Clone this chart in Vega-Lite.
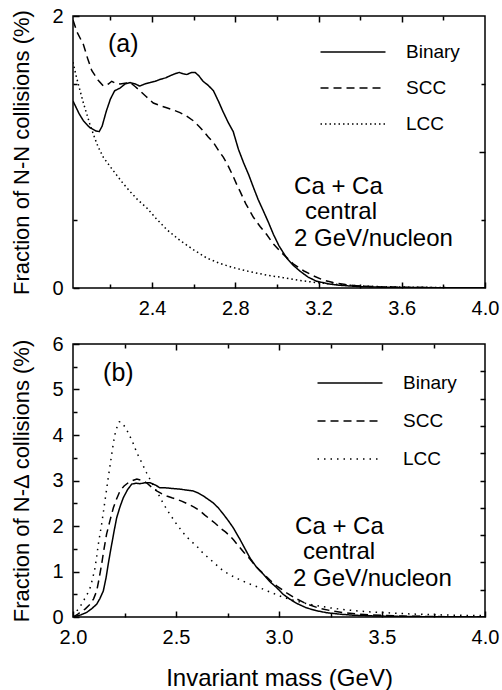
{
  "$schema": "https://vega.github.io/schema/vega-lite/v6.json",
  "background": "white",
  "padding": {"left": 10, "top": 5, "right": 0, "bottom": 0},
  "spacing": 14,
  "datasets": {
    "a": [
      {"x":2.02,"y":1.375,"s":"Binary"},{"x":2.05,"y":1.28,"s":"Binary"},{"x":2.07,"y":1.23,"s":"Binary"},{"x":2.10,"y":1.18,"s":"Binary"},{"x":2.13,"y":1.155,"s":"Binary"},{"x":2.146,"y":1.15,"s":"Binary"},{"x":2.16,"y":1.19,"s":"Binary"},{"x":2.18,"y":1.30,"s":"Binary"},{"x":2.20,"y":1.39,"s":"Binary"},{"x":2.22,"y":1.45,"s":"Binary"},{"x":2.246,"y":1.47,"s":"Binary"},{"x":2.27,"y":1.50,"s":"Binary"},{"x":2.295,"y":1.51,"s":"Binary"},{"x":2.32,"y":1.50,"s":"Binary"},{"x":2.34,"y":1.485,"s":"Binary"},{"x":2.365,"y":1.50,"s":"Binary"},{"x":2.39,"y":1.51,"s":"Binary"},{"x":2.415,"y":1.52,"s":"Binary"},{"x":2.44,"y":1.535,"s":"Binary"},{"x":2.465,"y":1.545,"s":"Binary"},{"x":2.486,"y":1.56,"s":"Binary"},{"x":2.51,"y":1.575,"s":"Binary"},{"x":2.53,"y":1.585,"s":"Binary"},{"x":2.55,"y":1.575,"s":"Binary"},{"x":2.567,"y":1.57,"s":"Binary"},{"x":2.59,"y":1.585,"s":"Binary"},{"x":2.607,"y":1.585,"s":"Binary"},{"x":2.625,"y":1.56,"s":"Binary"},{"x":2.645,"y":1.52,"s":"Binary"},{"x":2.67,"y":1.49,"s":"Binary"},{"x":2.695,"y":1.45,"s":"Binary"},{"x":2.72,"y":1.37,"s":"Binary"},{"x":2.74,"y":1.30,"s":"Binary"},{"x":2.765,"y":1.22,"s":"Binary"},{"x":2.79,"y":1.15,"s":"Binary"},{"x":2.815,"y":1.02,"s":"Binary"},{"x":2.84,"y":0.92,"s":"Binary"},{"x":2.865,"y":0.83,"s":"Binary"},{"x":2.887,"y":0.74,"s":"Binary"},{"x":2.91,"y":0.65,"s":"Binary"},{"x":2.935,"y":0.566,"s":"Binary"},{"x":2.96,"y":0.48,"s":"Binary"},{"x":2.983,"y":0.395,"s":"Binary"},{"x":3.01,"y":0.31,"s":"Binary"},{"x":3.047,"y":0.22,"s":"Binary"},{"x":3.08,"y":0.165,"s":"Binary"},{"x":3.11,"y":0.125,"s":"Binary"},{"x":3.15,"y":0.08,"s":"Binary"},{"x":3.19,"y":0.05,"s":"Binary"},{"x":3.25,"y":0.03,"s":"Binary"},{"x":3.30,"y":0.02,"s":"Binary"},{"x":3.40,"y":0.01,"s":"Binary"},{"x":3.50,"y":0.006,"s":"Binary"},{"x":3.60,"y":0.004,"s":"Binary"},{"x":3.80,"y":0.002,"s":"Binary"},{"x":4.00,"y":0.001,"s":"Binary"},
      {"x":2.02,"y":1.97,"s":"SCC"},{"x":2.04,"y":1.88,"s":"SCC"},{"x":2.07,"y":1.79,"s":"SCC"},{"x":2.09,"y":1.69,"s":"SCC"},{"x":2.11,"y":1.60,"s":"SCC"},{"x":2.14,"y":1.53,"s":"SCC"},{"x":2.166,"y":1.485,"s":"SCC"},{"x":2.19,"y":1.50,"s":"SCC"},{"x":2.206,"y":1.52,"s":"SCC"},{"x":2.225,"y":1.505,"s":"SCC"},{"x":2.246,"y":1.50,"s":"SCC"},{"x":2.27,"y":1.505,"s":"SCC"},{"x":2.295,"y":1.51,"s":"SCC"},{"x":2.32,"y":1.48,"s":"SCC"},{"x":2.342,"y":1.45,"s":"SCC"},{"x":2.37,"y":1.41,"s":"SCC"},{"x":2.406,"y":1.36,"s":"SCC"},{"x":2.44,"y":1.34,"s":"SCC"},{"x":2.47,"y":1.325,"s":"SCC"},{"x":2.50,"y":1.31,"s":"SCC"},{"x":2.534,"y":1.29,"s":"SCC"},{"x":2.565,"y":1.265,"s":"SCC"},{"x":2.598,"y":1.23,"s":"SCC"},{"x":2.625,"y":1.19,"s":"SCC"},{"x":2.646,"y":1.155,"s":"SCC"},{"x":2.67,"y":1.11,"s":"SCC"},{"x":2.695,"y":1.07,"s":"SCC"},{"x":2.72,"y":1.01,"s":"SCC"},{"x":2.743,"y":0.96,"s":"SCC"},{"x":2.765,"y":0.90,"s":"SCC"},{"x":2.79,"y":0.82,"s":"SCC"},{"x":2.81,"y":0.75,"s":"SCC"},{"x":2.823,"y":0.71,"s":"SCC"},{"x":2.85,"y":0.62,"s":"SCC"},{"x":2.887,"y":0.52,"s":"SCC"},{"x":2.92,"y":0.45,"s":"SCC"},{"x":2.95,"y":0.395,"s":"SCC"},{"x":2.98,"y":0.33,"s":"SCC"},{"x":3.015,"y":0.27,"s":"SCC"},{"x":3.05,"y":0.22,"s":"SCC"},{"x":3.08,"y":0.175,"s":"SCC"},{"x":3.13,"y":0.125,"s":"SCC"},{"x":3.175,"y":0.09,"s":"SCC"},{"x":3.22,"y":0.06,"s":"SCC"},{"x":3.27,"y":0.04,"s":"SCC"},{"x":3.33,"y":0.025,"s":"SCC"},{"x":3.40,"y":0.015,"s":"SCC"},{"x":3.50,"y":0.008,"s":"SCC"},{"x":3.60,"y":0.005,"s":"SCC"},{"x":3.80,"y":0.002,"s":"SCC"},{"x":4.00,"y":0.001,"s":"SCC"},
      {"x":2.02,"y":1.66,"s":"LCC"},{"x":2.035,"y":1.56,"s":"LCC"},{"x":2.054,"y":1.45,"s":"LCC"},{"x":2.07,"y":1.36,"s":"LCC"},{"x":2.086,"y":1.28,"s":"LCC"},{"x":2.10,"y":1.21,"s":"LCC"},{"x":2.118,"y":1.13,"s":"LCC"},{"x":2.14,"y":1.04,"s":"LCC"},{"x":2.166,"y":0.96,"s":"LCC"},{"x":2.20,"y":0.89,"s":"LCC"},{"x":2.23,"y":0.83,"s":"LCC"},{"x":2.26,"y":0.77,"s":"LCC"},{"x":2.294,"y":0.71,"s":"LCC"},{"x":2.33,"y":0.65,"s":"LCC"},{"x":2.374,"y":0.59,"s":"LCC"},{"x":2.42,"y":0.51,"s":"LCC"},{"x":2.47,"y":0.43,"s":"LCC"},{"x":2.534,"y":0.35,"s":"LCC"},{"x":2.60,"y":0.28,"s":"LCC"},{"x":2.663,"y":0.22,"s":"LCC"},{"x":2.727,"y":0.18,"s":"LCC"},{"x":2.79,"y":0.15,"s":"LCC"},{"x":2.87,"y":0.12,"s":"LCC"},{"x":2.95,"y":0.095,"s":"LCC"},{"x":3.03,"y":0.076,"s":"LCC"},{"x":3.11,"y":0.055,"s":"LCC"},{"x":3.19,"y":0.04,"s":"LCC"},{"x":3.30,"y":0.025,"s":"LCC"},{"x":3.40,"y":0.015,"s":"LCC"},{"x":3.50,"y":0.01,"s":"LCC"},{"x":3.60,"y":0.007,"s":"LCC"},{"x":3.80,"y":0.003,"s":"LCC"},{"x":4.00,"y":0.001,"s":"LCC"}
    ],
    "b": [
      {"x":2.00,"y":0.0,"s":"Binary"},{"x":2.018,"y":0.02,"s":"Binary"},{"x":2.04,"y":0.05,"s":"Binary"},{"x":2.066,"y":0.10,"s":"Binary"},{"x":2.09,"y":0.18,"s":"Binary"},{"x":2.115,"y":0.28,"s":"Binary"},{"x":2.13,"y":0.40,"s":"Binary"},{"x":2.147,"y":0.57,"s":"Binary"},{"x":2.16,"y":0.85,"s":"Binary"},{"x":2.171,"y":1.16,"s":"Binary"},{"x":2.18,"y":1.40,"s":"Binary"},{"x":2.188,"y":1.60,"s":"Binary"},{"x":2.20,"y":1.90,"s":"Binary"},{"x":2.212,"y":2.18,"s":"Binary"},{"x":2.228,"y":2.42,"s":"Binary"},{"x":2.244,"y":2.62,"s":"Binary"},{"x":2.265,"y":2.80,"s":"Binary"},{"x":2.285,"y":2.92,"s":"Binary"},{"x":2.305,"y":2.94,"s":"Binary"},{"x":2.325,"y":2.93,"s":"Binary"},{"x":2.35,"y":2.95,"s":"Binary"},{"x":2.374,"y":2.95,"s":"Binary"},{"x":2.40,"y":2.90,"s":"Binary"},{"x":2.422,"y":2.84,"s":"Binary"},{"x":2.445,"y":2.84,"s":"Binary"},{"x":2.47,"y":2.83,"s":"Binary"},{"x":2.495,"y":2.82,"s":"Binary"},{"x":2.52,"y":2.81,"s":"Binary"},{"x":2.55,"y":2.79,"s":"Binary"},{"x":2.584,"y":2.77,"s":"Binary"},{"x":2.61,"y":2.72,"s":"Binary"},{"x":2.633,"y":2.66,"s":"Binary"},{"x":2.655,"y":2.59,"s":"Binary"},{"x":2.68,"y":2.51,"s":"Binary"},{"x":2.705,"y":2.40,"s":"Binary"},{"x":2.73,"y":2.26,"s":"Binary"},{"x":2.755,"y":2.11,"s":"Binary"},{"x":2.778,"y":1.96,"s":"Binary"},{"x":2.81,"y":1.71,"s":"Binary"},{"x":2.835,"y":1.50,"s":"Binary"},{"x":2.86,"y":1.29,"s":"Binary"},{"x":2.89,"y":1.10,"s":"Binary"},{"x":2.924,"y":0.94,"s":"Binary"},{"x":2.955,"y":0.78,"s":"Binary"},{"x":2.99,"y":0.64,"s":"Binary"},{"x":3.02,"y":0.50,"s":"Binary"},{"x":3.053,"y":0.39,"s":"Binary"},{"x":3.09,"y":0.29,"s":"Binary"},{"x":3.134,"y":0.20,"s":"Binary"},{"x":3.18,"y":0.14,"s":"Binary"},{"x":3.23,"y":0.095,"s":"Binary"},{"x":3.30,"y":0.06,"s":"Binary"},{"x":3.36,"y":0.04,"s":"Binary"},{"x":3.45,"y":0.025,"s":"Binary"},{"x":3.55,"y":0.015,"s":"Binary"},{"x":3.70,"y":0.008,"s":"Binary"},{"x":3.85,"y":0.004,"s":"Binary"},{"x":4.00,"y":0.002,"s":"Binary"},
      {"x":2.00,"y":0.0,"s":"SCC"},{"x":2.02,"y":0.05,"s":"SCC"},{"x":2.034,"y":0.10,"s":"SCC"},{"x":2.06,"y":0.18,"s":"SCC"},{"x":2.083,"y":0.28,"s":"SCC"},{"x":2.10,"y":0.40,"s":"SCC"},{"x":2.115,"y":0.57,"s":"SCC"},{"x":2.127,"y":0.85,"s":"SCC"},{"x":2.139,"y":1.16,"s":"SCC"},{"x":2.15,"y":1.48,"s":"SCC"},{"x":2.163,"y":1.82,"s":"SCC"},{"x":2.18,"y":2.13,"s":"SCC"},{"x":2.196,"y":2.40,"s":"SCC"},{"x":2.212,"y":2.60,"s":"SCC"},{"x":2.228,"y":2.77,"s":"SCC"},{"x":2.248,"y":2.88,"s":"SCC"},{"x":2.268,"y":2.95,"s":"SCC"},{"x":2.29,"y":3.00,"s":"SCC"},{"x":2.31,"y":3.03,"s":"SCC"},{"x":2.335,"y":3.00,"s":"SCC"},{"x":2.357,"y":2.95,"s":"SCC"},{"x":2.38,"y":2.86,"s":"SCC"},{"x":2.406,"y":2.77,"s":"SCC"},{"x":2.43,"y":2.71,"s":"SCC"},{"x":2.455,"y":2.66,"s":"SCC"},{"x":2.48,"y":2.62,"s":"SCC"},{"x":2.503,"y":2.59,"s":"SCC"},{"x":2.53,"y":2.54,"s":"SCC"},{"x":2.56,"y":2.48,"s":"SCC"},{"x":2.59,"y":2.41,"s":"SCC"},{"x":2.617,"y":2.33,"s":"SCC"},{"x":2.64,"y":2.24,"s":"SCC"},{"x":2.665,"y":2.15,"s":"SCC"},{"x":2.69,"y":2.06,"s":"SCC"},{"x":2.714,"y":1.96,"s":"SCC"},{"x":2.74,"y":1.87,"s":"SCC"},{"x":2.762,"y":1.78,"s":"SCC"},{"x":2.78,"y":1.69,"s":"SCC"},{"x":2.80,"y":1.58,"s":"SCC"},{"x":2.83,"y":1.42,"s":"SCC"},{"x":2.86,"y":1.27,"s":"SCC"},{"x":2.89,"y":1.10,"s":"SCC"},{"x":2.924,"y":0.95,"s":"SCC"},{"x":2.956,"y":0.81,"s":"SCC"},{"x":2.99,"y":0.68,"s":"SCC"},{"x":3.037,"y":0.53,"s":"SCC"},{"x":3.08,"y":0.41,"s":"SCC"},{"x":3.134,"y":0.29,"s":"SCC"},{"x":3.19,"y":0.20,"s":"SCC"},{"x":3.25,"y":0.14,"s":"SCC"},{"x":3.32,"y":0.09,"s":"SCC"},{"x":3.39,"y":0.06,"s":"SCC"},{"x":3.50,"y":0.035,"s":"SCC"},{"x":3.60,"y":0.02,"s":"SCC"},{"x":3.75,"y":0.01,"s":"SCC"},{"x":3.90,"y":0.005,"s":"SCC"},{"x":4.00,"y":0.003,"s":"SCC"},
      {"x":2.00,"y":0.02,"s":"LCC"},{"x":2.018,"y":0.13,"s":"LCC"},{"x":2.035,"y":0.23,"s":"LCC"},{"x":2.05,"y":0.35,"s":"LCC"},{"x":2.067,"y":0.48,"s":"LCC"},{"x":2.083,"y":0.64,"s":"LCC"},{"x":2.095,"y":0.84,"s":"LCC"},{"x":2.107,"y":1.08,"s":"LCC"},{"x":2.115,"y":1.33,"s":"LCC"},{"x":2.123,"y":1.60,"s":"LCC"},{"x":2.131,"y":1.82,"s":"LCC"},{"x":2.139,"y":2.04,"s":"LCC"},{"x":2.147,"y":2.29,"s":"LCC"},{"x":2.155,"y":2.55,"s":"LCC"},{"x":2.163,"y":2.80,"s":"LCC"},{"x":2.171,"y":3.06,"s":"LCC"},{"x":2.18,"y":3.33,"s":"LCC"},{"x":2.188,"y":3.58,"s":"LCC"},{"x":2.196,"y":3.82,"s":"LCC"},{"x":2.204,"y":4.02,"s":"LCC"},{"x":2.214,"y":4.18,"s":"LCC"},{"x":2.225,"y":4.29,"s":"LCC"},{"x":2.235,"y":4.28,"s":"LCC"},{"x":2.244,"y":4.23,"s":"LCC"},{"x":2.256,"y":4.15,"s":"LCC"},{"x":2.268,"y":4.05,"s":"LCC"},{"x":2.29,"y":3.84,"s":"LCC"},{"x":2.31,"y":3.61,"s":"LCC"},{"x":2.335,"y":3.38,"s":"LCC"},{"x":2.357,"y":3.17,"s":"LCC"},{"x":2.385,"y":2.93,"s":"LCC"},{"x":2.414,"y":2.70,"s":"LCC"},{"x":2.44,"y":2.48,"s":"LCC"},{"x":2.47,"y":2.26,"s":"LCC"},{"x":2.50,"y":2.06,"s":"LCC"},{"x":2.535,"y":1.85,"s":"LCC"},{"x":2.565,"y":1.70,"s":"LCC"},{"x":2.60,"y":1.56,"s":"LCC"},{"x":2.63,"y":1.41,"s":"LCC"},{"x":2.665,"y":1.27,"s":"LCC"},{"x":2.70,"y":1.13,"s":"LCC"},{"x":2.73,"y":1.01,"s":"LCC"},{"x":2.765,"y":0.92,"s":"LCC"},{"x":2.80,"y":0.84,"s":"LCC"},{"x":2.85,"y":0.74,"s":"LCC"},{"x":2.908,"y":0.64,"s":"LCC"},{"x":2.95,"y":0.56,"s":"LCC"},{"x":3.005,"y":0.46,"s":"LCC"},{"x":3.06,"y":0.38,"s":"LCC"},{"x":3.118,"y":0.31,"s":"LCC"},{"x":3.18,"y":0.25,"s":"LCC"},{"x":3.25,"y":0.20,"s":"LCC"},{"x":3.32,"y":0.16,"s":"LCC"},{"x":3.39,"y":0.13,"s":"LCC"},{"x":3.45,"y":0.11,"s":"LCC"},{"x":3.52,"y":0.095,"s":"LCC"},{"x":3.60,"y":0.075,"s":"LCC"},{"x":3.68,"y":0.06,"s":"LCC"},{"x":3.80,"y":0.045,"s":"LCC"},{"x":3.90,"y":0.035,"s":"LCC"},{"x":4.00,"y":0.03,"s":"LCC"}
    ]
  },
  "vconcat": [
    {
      "width": 412,
      "height": 272,
      "data": {"name": "a"},
      "layer": [
        {
          "mark": {"type": "line", "color": "black", "strokeWidth": 1.5, "clip": true},
          "encoding": {
            "x": {"field": "x", "type": "quantitative", "scale": {"domain": [2.02, 4.0], "nice": false, "zero": false},
                  "axis": {"orient": "bottom", "values": [2.4, 2.8, 3.2, 3.6, 4.0], "format": ".1f", "title": null, "tickSize": -6, "labelPadding": 16}},
            "y": {"field": "y", "type": "quantitative", "scale": {"domain": [0, 2], "nice": false},
                  "axis": {"orient": "left", "values": [0, 1, 2], "format": "d", "title": "Fraction of N-N collisions (%)", "tickSize": -6, "labelPadding": 16, "titlePadding": 18}},
            "strokeDash": {"field": "s", "type": "nominal", "scale": {"domain": ["Binary", "SCC", "LCC"], "range": [[1, 0], [8, 5], [1.5, 3]]},
                  "legend": {"orient": "none", "legendX": 268, "legendY": 24, "title": null}}
          }
        },
        {
          "mark": {"type": "point", "opacity": 0},
          "encoding": {
            "x": {"field": "x", "type": "quantitative", "scale": {"domain": [2.02, 4.0], "nice": false, "zero": false},
                  "axis": {"orient": "top", "values": [2.4, 2.8, 3.2, 3.6], "labels": false, "title": null, "tickSize": -6}},
            "y": {"field": "y", "type": "quantitative", "scale": {"domain": [0, 2], "nice": false},
                  "axis": {"orient": "right", "values": [1], "labels": false, "title": null, "tickSize": -6}}
          }
        },
        {
          "mark": {"type": "point", "opacity": 0},
          "encoding": {
            "x": {"field": "x", "type": "quantitative", "scale": {"domain": [2.02, 4.0], "nice": false, "zero": false},
                  "axis": {"orient": "bottom", "values": [2.2, 2.6, 3.0, 3.4, 3.8], "labels": false, "title": null, "tickSize": -4}},
            "y": {"field": "y", "type": "quantitative", "scale": {"domain": [0, 2], "nice": false},
                  "axis": {"orient": "left", "values": [0.5, 1.5], "labels": false, "title": null, "tickSize": -4}}
          }
        },
        {
          "mark": {"type": "point", "opacity": 0},
          "encoding": {
            "x": {"field": "x", "type": "quantitative", "scale": {"domain": [2.02, 4.0], "nice": false, "zero": false},
                  "axis": {"orient": "top", "values": [2.2, 2.6, 3.0, 3.4, 3.8], "labels": false, "title": null, "tickSize": -4}},
            "y": {"field": "y", "type": "quantitative", "scale": {"domain": [0, 2], "nice": false},
                  "axis": {"orient": "right", "values": [0.5, 1.5], "labels": false, "title": null, "tickSize": -4}}
          }
        },
        {
          "data": {"values": [
            {"x": 2.188, "y": 1.735, "t": "(a)", "k": "label"},
            {"x": 3.0825, "y": 0.691, "t": "Ca + Ca", "k": "note"},
            {"x": 3.135, "y": 0.507, "t": "central", "k": "note"},
            {"x": 3.0825, "y": 0.309, "t": "2 GeV/nucleon", "k": "note"}
          ]},
          "mark": {"type": "text", "align": "left", "baseline": "alphabetic", "color": "black", "font": "Liberation Sans"},
          "encoding": {
            "x": {"field": "x", "type": "quantitative", "scale": {"domain": [2.02, 4.0], "nice": false, "zero": false}, "axis": null},
            "y": {"field": "y", "type": "quantitative", "scale": {"domain": [0, 2], "nice": false}, "axis": null},
            "text": {"field": "t"},
            "size": {"field": "k", "type": "nominal", "scale": {"domain": ["label", "note"], "range": [25, 24]}, "legend": null}
          }
        }
      ],
      "resolve": {"axis": {"x": "independent", "y": "independent"}, "scale": {"size": "independent"}}
    },
    {
      "width": 412,
      "height": 273,
      "data": {"name": "b"},
      "layer": [
        {
          "mark": {"type": "line", "color": "black", "strokeWidth": 1.5, "clip": true},
          "encoding": {
            "x": {"field": "x", "type": "quantitative", "scale": {"domain": [2.0, 4.0], "nice": false, "zero": false},
                  "axis": {"orient": "bottom", "values": [2.0, 2.5, 3.0, 3.5, 4.0], "format": ".1f", "title": "Invariant mass (GeV)", "tickSize": -6, "labelPadding": 16, "titlePadding": 19, "titleFontSize": 24}},
            "y": {"field": "y", "type": "quantitative", "scale": {"domain": [0, 6], "nice": false},
                  "axis": {"orient": "left", "values": [0, 1, 2, 3, 4, 5, 6], "format": "d", "title": "Fraction of N-Δ collisions (%)", "tickSize": -6, "labelPadding": 16, "titlePadding": 18}},
            "strokeDash": {"field": "s", "type": "nominal", "scale": {"domain": ["Binary", "SCC", "LCC"], "range": [[1, 0], [8, 5], [1.5, 5]]},
                  "legend": {"orient": "none", "legendX": 265, "legendY": 27, "rowPadding": 16, "title": null}}
          }
        },
        {
          "mark": {"type": "point", "opacity": 0},
          "encoding": {
            "x": {"field": "x", "type": "quantitative", "scale": {"domain": [2.0, 4.0], "nice": false, "zero": false},
                  "axis": {"orient": "top", "values": [2.5, 3.0, 3.5], "labels": false, "title": null, "tickSize": -6}},
            "y": {"field": "y", "type": "quantitative", "scale": {"domain": [0, 6], "nice": false},
                  "axis": {"orient": "right", "values": [0.6, 1.2, 1.8, 2.4, 3.0, 3.6, 4.2, 4.8, 5.4], "labels": false, "title": null, "tickSize": -5}}
          }
        },
        {
          "mark": {"type": "point", "opacity": 0},
          "encoding": {
            "x": {"field": "x", "type": "quantitative", "scale": {"domain": [2.0, 4.0], "nice": false, "zero": false},
                  "axis": {"orient": "bottom", "values": [2.25, 2.75, 3.25, 3.75], "labels": false, "title": null, "tickSize": -4}},
            "y": {"field": "y", "type": "quantitative", "scale": {"domain": [0, 6], "nice": false},
                  "axis": {"orient": "left", "values": [0.5, 1.5, 2.5, 3.5, 4.5, 5.5], "labels": false, "title": null, "tickSize": -4}}
          }
        },
        {
          "mark": {"type": "point", "opacity": 0},
          "encoding": {
            "x": {"field": "x", "type": "quantitative", "scale": {"domain": [2.0, 4.0], "nice": false, "zero": false},
                  "axis": {"orient": "top", "values": [2.25, 2.75, 3.25, 3.75], "labels": false, "title": null, "tickSize": -4}}
          }
        },
        {
          "data": {"values": [
            {"x": 2.146, "y": 5.19, "t": "(b)", "k": "label"},
            {"x": 3.078, "y": 1.824, "t": "Ca + Ca", "k": "note"},
            {"x": 3.117, "y": 1.275, "t": "central", "k": "note"},
            {"x": 3.068, "y": 0.681, "t": "2 GeV/nucleon", "k": "note"}
          ]},
          "mark": {"type": "text", "align": "left", "baseline": "alphabetic", "color": "black", "font": "Liberation Sans"},
          "encoding": {
            "x": {"field": "x", "type": "quantitative", "scale": {"domain": [2.0, 4.0], "nice": false, "zero": false}, "axis": null},
            "y": {"field": "y", "type": "quantitative", "scale": {"domain": [0, 6], "nice": false}, "axis": null},
            "text": {"field": "t"},
            "size": {"field": "k", "type": "nominal", "scale": {"domain": ["label", "note"], "range": [25, 24]}, "legend": null}
          }
        }
      ],
      "resolve": {"axis": {"x": "independent", "y": "independent"}, "scale": {"size": "independent"}}
    }
  ],
  "resolve": {"scale": {"strokeDash": "independent"}, "legend": {"strokeDash": "independent"}},
  "config": {
    "font": "Liberation Sans",
    "view": {"stroke": "black", "strokeWidth": 1.5},
    "axis": {
      "domain": false, "grid": false, "ticks": true,
      "tickColor": "black", "tickWidth": 1.5,
      "labelColor": "black", "labelFont": "Liberation Sans", "labelFontSize": 20, "labelFlush": false, "labelOverlap": false,
      "titleColor": "black", "titleFont": "Liberation Sans", "titleFontSize": 22, "titleFontWeight": "normal"
    },
    "legend": {
      "symbolType": "M-3,0H3", "symbolSize": 469, "symbolStrokeWidth": 1.5, "symbolStrokeColor": "black", "symbolFillColor": "transparent",
      "labelFont": "Liberation Sans", "labelFontSize": 19, "labelColor": "black", "labelOffset": 41,
      "rowPadding": 14, "padding": 0, "symbolOffset": 0
    }
  }
}
